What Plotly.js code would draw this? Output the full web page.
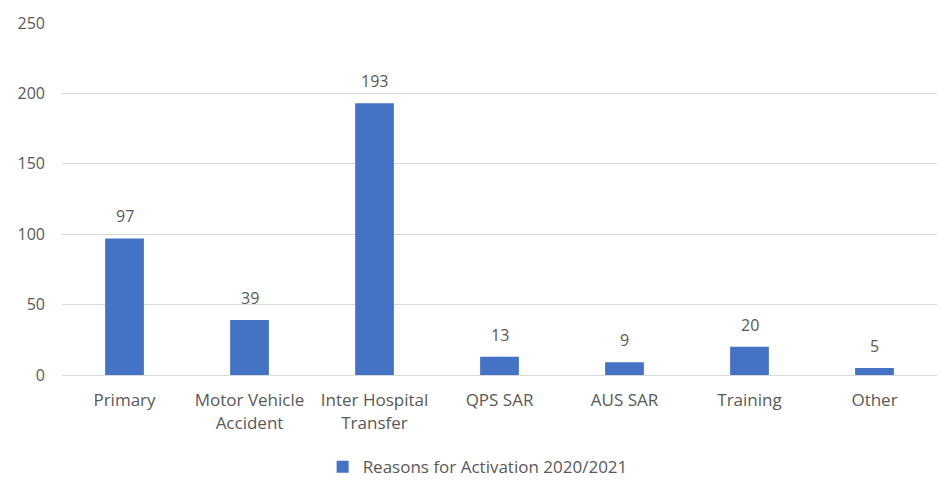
<!DOCTYPE html>
<html><head><meta charset="utf-8">
<script src="https://cdn.plot.ly/plotly-3.0.1.min.js"></script>
<style>html,body{margin:0;padding:0;background:#fff}#chart{width:941px;height:497px}</style>
</head><body><div id="chart"></div>
<script>
const categories = ["Primary", "Motor Vehicle<br>Accident", "Inter Hospital<br>Transfer", "QPS SAR", "AUS SAR", "Training", "Other"];
const values = [97, 39, 193, 13, 9, 20, 5];
const seriesName = "Reasons for Activation 2020/2021";
const yTicks = [0, 50, 100, 150, 200, 250];

const font = {family: "Open Sans, sans-serif", size: 15, color: "#595959"};
const bigFont = {family: "Open Sans, sans-serif", size: 17, color: "#595959"};

const trace = {
  type: "bar",
  x: categories,
  y: values,
  name: seriesName,
  marker: {color: "#4472C4"},
  hoverinfo: "none"
};

const annotations = categories.map((c, i) => ({
  x: c, y: values[i], xref: "x", yref: "y",
  text: String(values[i]), showarrow: false,
  yanchor: "bottom", yshift: 9,
  font: {family: "Open Sans, sans-serif", size: 16, color: "#595959"}
}));

const layout = {
  width: 941, height: 497,
  margin: {l: 62, r: 4, t: 23, b: 122},
  paper_bgcolor: "#fff", plot_bgcolor: "#fff",
  font: font,
  bargap: 0.69,
  showlegend: true,
  legend: {orientation: "h", x: 0.475, xanchor: "center", y: -0.262, yanchor: "middle", font: bigFont},
  xaxis: {
    showgrid: false, showline: true, linecolor: "#d9d9d9", linewidth: 1,
    ticks: "", tickfont: bigFont, ticklabelstandoff: 10, fixedrange: true
  },
  yaxis: {
    range: [0, 250], tickvals: yTicks, ticktext: yTicks.map(String),
    showgrid: true, gridcolor: "#d9d9d9", gridwidth: 1, zeroline: false,
    showline: false, ticks: "", tickfont: {family: "Open Sans, sans-serif", size: 16, color: "#595959"},
    ticklabelstandoff: 16, fixedrange: true
  },
  annotations: annotations
};

Plotly.newPlot("chart", [trace], layout, {displayModeBar: false, staticPlot: true});
</script></body></html>
